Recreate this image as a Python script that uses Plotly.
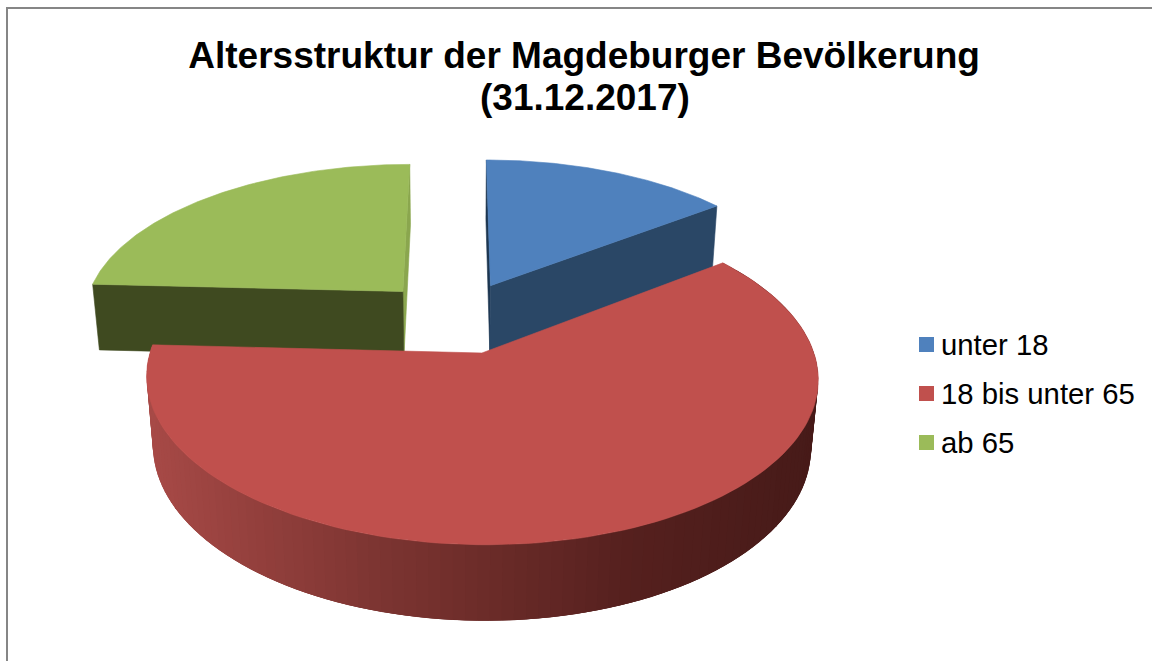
import math
import plotly.graph_objects as go

categories = ["unter 18", "18 bis unter 65", "ab 65"]
values = [14.7, 61.1, 24.2]
title_lines = ["Altersstruktur der Magdeburger Bevölkerung", "(31.12.2017)"]

top_colors = ["#4F81BD", "#C0504D", "#9BBB59"]
cut_colors = ["#2A4766", "#4a1c1a", "#3F4A20"]
sliver_colors = ["#1D3650", "#4a1c1a", "#8AA64E"]
explode_u = [0.032, 0.0, -0.248]
explode_v = [-0.44, 0.0, -0.40]

W, H = 1152, 661
VX, CY, A, B, U0, K, M, WALL = 458.0, 353.0, 332.0, 163.0, 0.072, 0.15, 0.02, 70.0


def project(u, v, z=0.0):
    d = 1 - K * v + M * z
    return VX + A * (u + U0) / d, CY + (B * v + WALL * z) / d


def rim(i, start, end, n):
    out = []
    for j in range(n + 1):
        t = math.radians(start + (end - start) * j / n)
        out.append((explode_u[i] + math.sin(t), explode_v[i] - math.cos(t)))
    return out


def poly(points, color, name, width=0.6):
    xs = [p[0] for p in points] + [points[0][0]]
    ys = [p[1] for p in points] + [points[0][1]]
    return go.Scatter(x=xs, y=ys, mode="lines", fill="toself", fillcolor=color,
                      line=dict(color=color, width=width), hoverinfo="skip",
                      showlegend=False, name=name)


def quad(a, b, color, name, width=0.6):
    return poly([project(*a), project(*b), project(*b, 1), project(*a, 1)], color, name, width)


def lerp(c1, c2, t):
    return "rgb(%d,%d,%d)" % tuple(round(c1[k] + (c2[k] - c1[k]) * t) for k in range(3))


total = sum(values)
bounds = []
acc = 0.0
for val in values:
    bounds.append((acc * 360 / total, (acc + val) * 360 / total))
    acc += val

rims = [rim(i, bounds[i][0], bounds[i][1], 120) for i in range(3)]
apex = [(explode_u[i], explode_v[i]) for i in range(3)]

fig = go.Figure()

# green slice
fig.add_trace(quad(apex[2], rims[2][-1], sliver_colors[2], categories[2]))
fig.add_trace(quad(apex[2], rims[2][0], cut_colors[2], categories[2]))
fig.add_trace(poly([project(*apex[2])] + [project(*p) for p in rims[2]], top_colors[2], categories[2]))

# blue slice
fig.add_trace(quad(apex[0], rims[0][0], sliver_colors[0], categories[0]))
fig.add_trace(quad(apex[0], rims[0][-1], cut_colors[0], categories[0]))
fig.add_trace(poly([project(*apex[0])] + [project(*p) for p in rims[0]], top_colors[0], categories[0]))

# red slice: outer wall shaded from left to right, facets overlap to hide seams
stops = [(0.0, (168, 74, 71)), (0.35, (124, 52, 49)), (0.72, (85, 32, 30)), (1.0, (70, 26, 24))]
red = rims[1]
for j, (a, b) in enumerate(zip(red[:-1], red[1:])):
    next_b = red[min(j + 3, len(red) - 1)]
    x_mid = (project(*a, 1)[0] + project(*b, 1)[0]) / 2
    t = max(0.0, min(1.0, (x_mid - 150) / 665))
    for s0, s1 in zip(stops[:-1], stops[1:]):
        if t <= s1[0]:
            col = lerp(s0[1], s1[1], (t - s0[0]) / (s1[0] - s0[0]))
            break
    fig.add_trace(quad(a, next_b, col, categories[1], width=0))
fig.add_trace(poly([project(*apex[1])] + [project(*p) for p in red], top_colors[1], categories[1]))

# legend
legend_y = [344.5, 393.5, 442.5]
annotations = []
for cat, col, y in zip(categories, top_colors, legend_y):
    fig.add_trace(go.Scatter(x=[926.5], y=[y], mode="markers", hoverinfo="skip", showlegend=False,
                             marker=dict(symbol="square", size=15, color=col), name=cat))
    annotations.append(dict(x=941, y=y, xref="x", yref="y", text=cat, showarrow=False,
                            xanchor="left", yanchor="middle", xshift=-2,
                            font=dict(family="Liberation Sans", size=29.3, color="#000000")))

title_font = dict(family="Liberation Sans", size=37, color="#000000", weight="bold")
annotations.append(dict(x=584.5, y=97, xref="x", yref="y", text=title_lines[1], showarrow=False,
                        xanchor="center", yanchor="middle", font=title_font))

border = dict(color="#868686", width=2)
fig.update_layout(
    width=W, height=H, margin=dict(l=0, r=0, t=0, b=0),
    paper_bgcolor="#ffffff", plot_bgcolor="#ffffff", showlegend=False,
    xaxis=dict(range=[0, W], visible=False, fixedrange=True),
    yaxis=dict(range=[H, 0], visible=False, fixedrange=True),
    title=dict(text=title_lines[0], x=0.507, xanchor="center", y=0.917, yanchor="middle", font=title_font),
    annotations=annotations,
    shapes=[
        dict(type="line", xref="x", yref="y", x0=7, x1=7, y0=7, y1=H, line=border),
        dict(type="line", xref="x", yref="y", x0=6, x1=W, y0=8, y1=8, line=border),
    ],
)
fig.write_html("out.html", config={"displayModeBar": False},
               post_script="document.body.style.margin='0';document.documentElement.style.overflow='hidden';")
